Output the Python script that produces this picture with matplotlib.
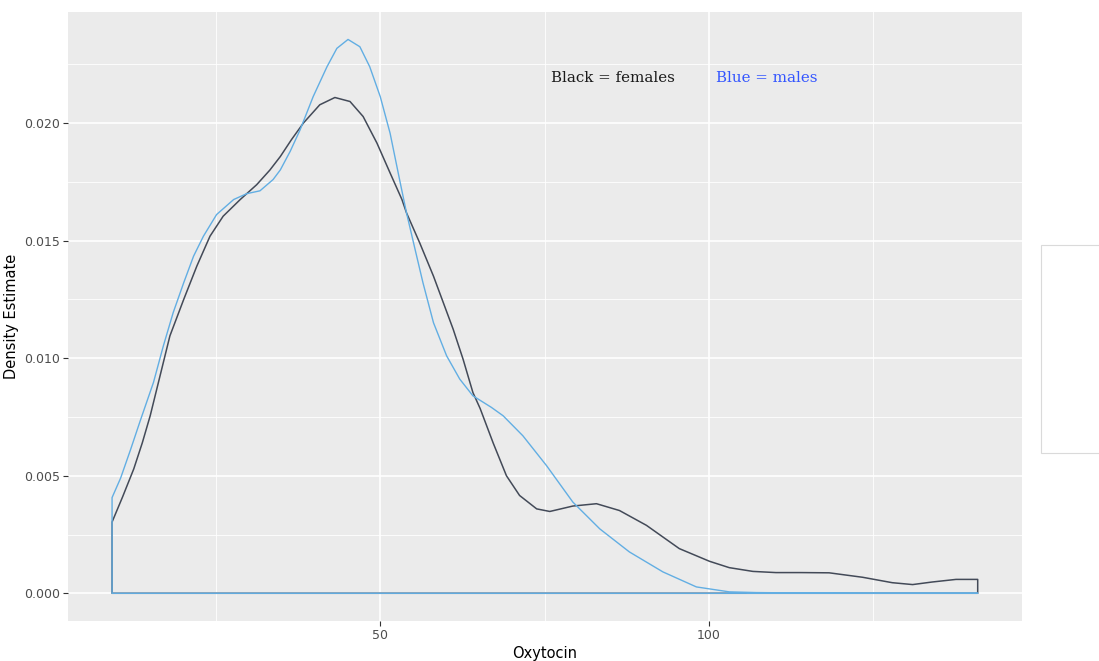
import matplotlib
matplotlib.use("Agg")
import matplotlib.pyplot as plt
from matplotlib.patches import Rectangle

# ---- data ----
female_x = [9.2, 9.2, 10.8, 12.5, 13.8, 15.0, 16.5, 18.0, 20.1, 22.1, 24.1, 26.1, 28.7,
            31.2, 33.2, 34.8, 36.5, 38.3, 40.8, 43.1, 45.4, 47.4, 49.5, 51.5, 53.3,
            54.0, 56.0, 58.1, 59.6, 61.1, 62.6, 64.1, 65.2, 67.2, 69.2, 71.2, 73.8,
            75.8, 79.3, 82.9, 86.4, 90.5, 95.5, 100.1, 103.1, 106.7, 110.2, 114.0,
            118.3, 123.4, 127.9, 131.0, 134.0, 137.6, 140.9, 140.9]
female_y = [0.0, 0.00303, 0.00410, 0.00529, 0.00640, 0.00755, 0.00925, 0.01095, 0.01250,
            0.01392, 0.01519, 0.01604, 0.01675, 0.01738, 0.01800, 0.01858, 0.01930,
            0.02000, 0.02078, 0.02109, 0.02092, 0.02028, 0.01915, 0.01788, 0.01675,
            0.01618, 0.01491, 0.01349, 0.01236, 0.01123, 0.00996, 0.00854, 0.00786,
            0.00638, 0.00500, 0.00416, 0.00359, 0.00348, 0.00371, 0.00381, 0.00352,
            0.00289, 0.00190, 0.00136, 0.00109, 0.00093, 0.00088, 0.00088, 0.00087,
            0.00068, 0.00045, 0.00037, 0.00048, 0.00059, 0.00059, 0.0]

male_x = [9.2, 9.2, 10.5, 12.0, 13.5, 15.5, 17.0, 18.5, 20.1, 21.6, 23.1, 25.1, 27.7,
          29.7, 31.7, 33.7, 34.8, 36.3, 37.8, 39.8, 41.9, 43.4, 45.1, 46.9, 48.4, 50.0,
          51.5, 53.0, 54.0, 55.3, 56.5, 58.1, 60.1, 62.1, 64.1, 66.9, 68.7, 71.7,
          75.3, 79.3, 83.4, 87.9, 93.0, 98.1, 103.1, 107.2, 115.0, 125.0, 140.9]
male_y = [0.0, 0.00407, 0.00490, 0.00610, 0.00735, 0.00897, 0.01052, 0.01194, 0.01321,
          0.01434, 0.01519, 0.01611, 0.01675, 0.01700, 0.01712, 0.01760, 0.01801,
          0.01880, 0.01971, 0.02113, 0.02240, 0.02318, 0.02356, 0.02325, 0.02240,
          0.02113, 0.01957, 0.01752, 0.01618, 0.01463, 0.01321, 0.01151, 0.01010,
          0.00911, 0.00840, 0.00791, 0.00755, 0.00670, 0.00543, 0.00388, 0.00274,
          0.00176, 0.00091, 0.00027, 0.00006, 0.00003, 0.00001, 0.0, 0.0]

x_ticks = [50, 100]
y_ticks = [0.000, 0.005, 0.010, 0.015, 0.020]
y_tick_labels = ["0.000", "0.005", "0.010", "0.015", "0.020"]
label_female = "Black = females"
label_male = "Blue = males"

# ---- figure ----
fig = plt.figure(figsize=(10.99, 6.61), dpi=100)
ax = fig.add_axes([0.0619, 0.0605, 0.8678, 0.9218])
ax.set_facecolor("#EBEBEB")

ax.set_xlim(2.5, 147.6)
ax.set_ylim(-0.00118, 0.02474)

# grid
for xv in [25, 75, 125]:
    ax.axvline(xv, color="white", lw=0.6, zorder=0)
for yv in [0.0025, 0.0075, 0.0125, 0.0175, 0.0225]:
    ax.axhline(yv, color="white", lw=0.6, zorder=0)
for xv in x_ticks:
    ax.axvline(xv, color="white", lw=1.2, zorder=0)
for yv in y_ticks:
    ax.axhline(yv, color="white", lw=1.2, zorder=0)

# curves (closed outlines like geom_density)
ax.fill(female_x, female_y, fill=False, edgecolor="#434a58", lw=1.1, zorder=2,
        joinstyle="round")
ax.fill(male_x, male_y, fill=False, edgecolor="#62aee3", lw=1.0, zorder=3,
        joinstyle="round")

# annotations
ax.text(76.0, 0.02191, label_female, color="#1a1a1a", family="DejaVu Serif",
        fontsize=10.8, ha="left", va="center")
ax.text(101.1, 0.02191, label_male, color="#3355ff", family="DejaVu Serif",
        fontsize=10.8, ha="left", va="center")

# axes styling
for s in ax.spines.values():
    s.set_visible(False)
ax.set_xticks(x_ticks)
ax.set_xticklabels([str(v) for v in x_ticks])
ax.set_yticks(y_ticks)
ax.set_yticklabels(y_tick_labels)
ax.tick_params(axis="both", colors="#333333", length=3.5, width=0.8,
               labelsize=9, labelcolor="#4D4D4D", pad=2)
ax.set_xlabel("Oxytocin", fontsize=10.5, color="black", labelpad=3)
ax.set_ylabel("Density Estimate", fontsize=10.5, color="black", labelpad=4)

# empty legend box on the right
fig.patches.append(Rectangle((1041.3 / 1099, 1 - 453.3 / 661), 0.08, (453.3 - 245) / 661,
                             transform=fig.transFigure, facecolor="white",
                             edgecolor="#DADADA", lw=0.8, figure=fig))

fig.savefig("out.png", dpi=100)
